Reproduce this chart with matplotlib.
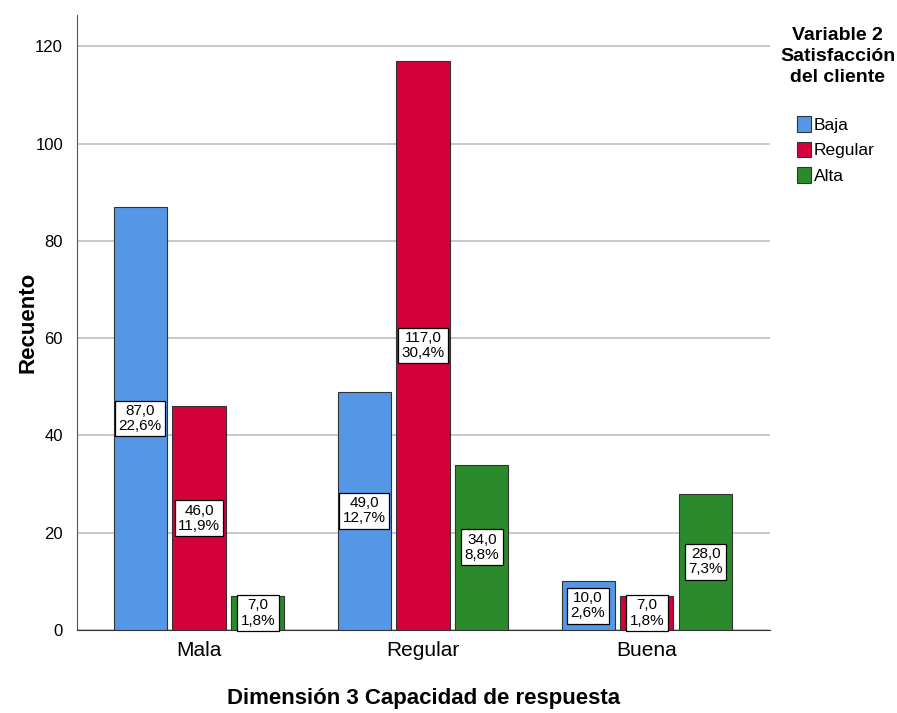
import numpy as np
import matplotlib.pyplot as plt
from matplotlib.patches import Patch

categories = ["Mala", "Regular", "Buena"]
series_names = ["Baja", "Regular", "Alta"]
baja = [87, 49, 10]
regular = [46, 117, 7]
alta = [7, 34, 28]
baja_pct = [22.6, 12.7, 2.6]
regular_pct = [11.9, 30.4, 1.8]
alta_pct = [1.8, 8.8, 7.3]

colors = ["#5597E6", "#D4003A", "#2B8A2B"]

plt.rcParams["font.family"] = ["Liberation Sans", "DejaVu Sans"]

fig = plt.figure(figsize=(8.97, 7.13), dpi=100)
ax = fig.add_axes([0.0858, 0.1164, 0.7725, 0.863])

x = np.arange(len(categories))
width = 0.237
step = 0.263


def fmt(v):
    return f"{v:.1f}".replace(".", ",")


for i, (vals, pcts) in enumerate(zip([baja, regular, alta], [baja_pct, regular_pct, alta_pct])):
    pos = x + (i - 1) * step
    ax.bar(pos, vals, width, color=colors[i], edgecolor="#333333", linewidth=0.8, zorder=3)
    for px, v, p in zip(pos, vals, pcts):
        ax.text(px, v / 2, f"{fmt(v)}\n{fmt(p)}%", ha="center", va="center",
                fontsize=11, linespacing=1.1, zorder=4,
                bbox=dict(boxstyle="square,pad=0.22", facecolor="white",
                          edgecolor="black", linewidth=0.9))

ax.set_xlim(-0.545, 2.549)
ax.set_ylim(0, 126.5)
ax.set_yticks(range(0, 121, 20))
ax.set_xticks(x)
ax.set_xticklabels(categories, fontsize=15)
ax.tick_params(axis="y", labelsize=12, length=0, pad=10)
ax.tick_params(axis="x", length=0, pad=8)
ax.yaxis.grid(True, color="#C8C8C8", linewidth=1.4, zorder=0)
ax.set_axisbelow(True)
for side in ["top", "right"]:
    ax.spines[side].set_visible(False)
ax.spines["left"].set_color("#555555")
ax.spines["bottom"].set_color("#333333")

fig.text(0.031, 0.548, "Recuento", rotation=90, ha="center", va="center",
         fontsize=16, fontweight="bold")
fig.text(0.472, 0.006, "Dimensión 3 Capacidad de respuesta", ha="center", va="bottom",
         fontsize=16, fontweight="bold")

# legend title set apart so it can be centred over the entries
fig.text(0.934, 0.962, "Variable 2\nSatisfacción\ndel cliente", ha="center", va="top",
         fontsize=14, fontweight="bold", linespacing=1.3, multialignment="center")

handles = [Patch(facecolor=c, edgecolor="#333333", linewidth=0.8) for c in colors]
fig.legend(handles, series_names, loc="upper left", bbox_to_anchor=(0.888, 0.837),
           frameon=False, fontsize=12.5, borderpad=0, borderaxespad=0,
           handlelength=0.85, handleheight=1.0, handletextpad=0.15, labelspacing=0.5)

fig.savefig("out.png", dpi=100)
